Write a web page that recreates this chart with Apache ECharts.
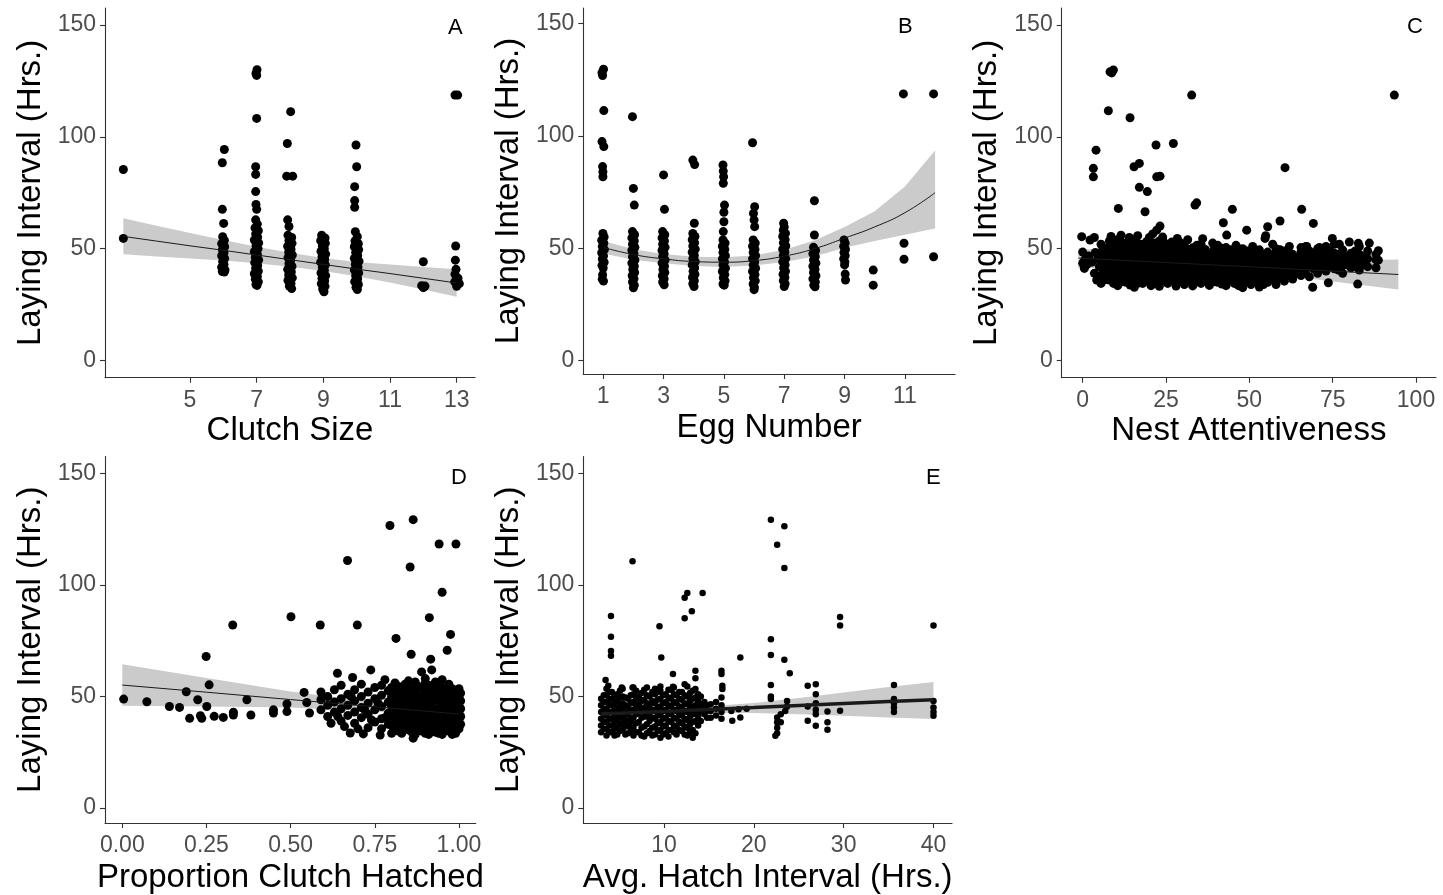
<!DOCTYPE html>
<html><head><meta charset="utf-8">
<script src="https://cdn.jsdelivr.net/npm/echarts@6/dist/echarts.min.js"></script>
<style>html,body{margin:0;padding:0;background:#fff;}#chart{width:1443px;height:895px;}</style>
</head><body><div id="chart"></div>
<script>
// ---------- tick labels / titles ----------
const yTicks = [0, 50, 100, 150];
const clutchTicks = [5, 7, 9, 11, 13];
const eggTicks = [1, 3, 5, 7, 9, 11];
const attentTicks = [0, 25, 50, 75, 100];
const propTicks = [0, 0.25, 0.5, 0.75, 1];
const hatchTicks = [10, 20, 30, 40];
const panelLetters = ['A', 'B', 'C', 'D', 'E'];
const xTitles = ['Clutch Size', 'Egg Number', 'Nest Attentiveness', 'Proportion Clutch Hatched', 'Avg. Hatch Interval (Hrs.)'];
const yTitle = 'Laying Interval (Hrs.)';

// ---------- Panel A: clutch size ----------
const clutchPts = [
[3.0,85.4],[3.0,54.6],
[6.03,94.3],[5.97,88.4],[5.97,67.6],[6.01,61.3],[5.98,55.4],[6.03,53.8],[5.95,52.3],[6.04,50.9],[5.97,49.6],[6.02,48.2],[5.95,46.9],[6.04,45.6],[5.98,44.3],[6.02,43.0],[5.95,41.7],[6.05,40.5],[5.97,39.8],[6.03,39.6],
[7.01,129.9],[6.98,128.3],[7.0,127.4],[7.0,108.2],[6.97,86.6],[6.97,83.2],[6.97,75.5],[6.98,69.8],[7.0,67.6],[6.97,62.9],[7.02,61.0],
[6.95,59.3],[7.05,58.0],[6.97,56.6],[7.03,55.2],[6.93,53.9],[7.06,52.6],[6.98,51.3],[7.04,50.0],[6.93,48.7],[7.02,47.5],[6.96,46.2],[7.06,45.0],[6.94,43.8],[7.03,42.5],[6.97,41.3],[7.05,40.0],[6.93,38.8],[7.02,37.6],[6.96,36.4],[7.05,35.2],[6.98,34.0],[7.01,33.6],[7.0,49.2],[7.0,44.5],[7.0,39.3],
[8.02,111.2],[7.92,97.0],[7.9,82.4],[8.08,82.4],[7.93,62.9],[7.97,59.9],
[7.94,56.0],[8.05,55.0],[7.97,53.7],[8.06,52.4],[7.93,51.1],[8.03,49.8],[7.96,48.5],[8.07,47.2],[7.94,46.0],[8.02,44.7],[7.97,43.4],[8.06,42.1],[7.93,40.8],[8.04,39.6],[7.96,38.3],[8.07,37.0],[7.94,35.8],[8.03,34.5],[7.98,33.3],[8.05,32.2],[8.0,45.5],[8.0,40.0],
[8.95,56.0],[9.05,54.8],[8.92,53.6],[9.06,52.4],[8.97,51.2],[9.03,50.0],[8.93,48.8],[9.07,47.6],[8.96,46.4],[9.04,45.2],[8.92,44.0],[9.06,42.8],[8.97,41.6],[9.03,40.4],[8.93,39.2],[9.07,38.0],[8.96,36.8],[9.04,35.6],[8.94,34.4],[9.05,33.2],[8.98,32.0],[9.02,30.8],[9.0,46.0],[9.0,40.0],[9.0,43.0],[9.0,37.0],
[9.98,96.3],[10.0,86.6],[9.94,77.7],[9.94,71.5],[9.94,68.5],[9.96,57.6],[10.02,55.4],
[9.95,53.5],[10.05,52.2],[9.93,50.9],[10.06,49.6],[9.97,48.3],[10.03,47.0],[9.93,45.7],[10.07,44.4],[9.96,43.1],[10.04,41.8],[9.93,40.5],[10.06,39.2],[9.97,37.9],[10.03,36.6],[9.94,35.3],[10.05,34.0],[9.98,32.8],[10.02,31.8],
[12.0,44.2],[11.95,33.5],[12.05,33.3],[12.0,32.6],
[12.95,118.6],[13.03,118.6],[12.97,51.2],[12.96,44.9],[12.98,40.8],[12.95,38.6],[13.04,36.8],[12.94,35.2],[13.08,34.4],[13.0,33.2]
];
const clutchFitX = [3,4,5,6,7,8,9,10,11,12,13];
const clutchFit = [55.5,53.4,51.3,49.3,47.2,45.1,43.0,40.9,38.9,36.8,34.7];
const clutchHi = [63.6,60.3,57.0,53.9,50.9,48.2,45.9,44.1,42.9,41.8,40.8];
const clutchLo = [47.5,46.5,45.6,44.7,43.5,42.0,40.1,37.7,34.9,31.8,28.6];

// ---------- Panel B: egg number ----------
const eggPts = [
[1.01,129.6],[0.96,128.0],[0.98,126.8],[1.02,111.2],[0.96,97.4],[1.02,95.2],[0.98,86.3],[0.99,84.0],[0.99,81.8],
[0.99,56.6],[1.03,55.0],[0.95,53.6],[1.02,52.2],[0.97,50.8],[1.04,49.4],[0.95,48.0],[1.01,46.6],[0.97,45.2],[1.03,43.8],[0.96,42.4],[1.0,41.2],[0.98,38.2],[0.97,36.2],[1.01,35.4],
[1.97,108.5],[2.0,76.6],[2.03,69.2],
[1.97,57.4],[2.04,56.0],[1.95,54.6],[2.03,53.2],[1.97,51.8],[2.05,50.4],[1.95,49.0],[2.02,47.6],[1.97,46.2],[2.05,44.8],[1.95,43.4],[2.03,42.0],[1.98,40.6],[2.04,39.2],[1.96,37.8],[2.02,36.4],[1.97,35.0],[2.03,33.6],[2.0,32.4],[2.0,45.5],
[3.0,82.6],[3.03,67.3],
[2.97,57.4],[3.04,56.0],[2.95,54.6],[3.03,53.2],[2.97,51.8],[3.05,50.4],[2.95,49.0],[3.02,47.6],[2.97,46.2],[3.05,44.8],[2.95,43.4],[3.03,42.0],[2.98,40.6],[3.04,39.2],[2.96,37.8],[3.02,36.4],[2.97,35.0],[3.02,33.8],
[3.97,89.2],[4.03,87.2],[4.02,61.1],
[3.97,56.6],[4.04,55.2],[3.95,53.8],[4.03,52.4],[3.97,51.0],[4.05,49.6],[3.95,48.2],[4.02,46.8],[3.97,45.4],[4.05,44.0],[3.95,42.6],[4.03,41.2],[3.98,39.8],[4.04,38.4],[3.96,37.0],[4.02,35.6],[3.97,34.2],[4.01,33.0],
[4.97,87.0],[4.98,84.3],[4.99,81.8],[4.98,78.9],[5.02,69.2],[5.0,66.0],[5.0,61.8],[4.98,57.4],
[4.97,53.7],[5.04,52.3],[4.95,50.9],[5.03,49.5],[4.97,48.1],[5.05,46.7],[4.95,45.3],[5.02,43.9],[4.97,42.5],[5.05,41.1],[4.95,39.7],[5.03,38.3],[4.98,36.9],[5.04,35.5],[4.97,34.1],[5.01,33.6],
[5.95,96.9],[6.02,68.5],[5.98,65.5],[6.0,62.6],[6.02,59.6],
[5.97,53.7],[6.04,52.3],[5.95,50.9],[6.03,49.5],[5.97,48.1],[6.05,46.7],[5.95,45.3],[6.02,43.9],[5.97,42.5],[6.05,41.1],[5.95,39.7],[6.03,38.3],[5.98,36.9],[6.04,35.5],[5.97,34.1],[6.01,32.7],[6.0,31.6],
[6.98,61.1],[7.0,59.5],[6.97,58.0],[7.04,56.6],[6.95,55.2],[7.03,53.8],[6.97,52.4],[7.05,51.0],[6.95,49.6],[7.02,48.2],[6.97,46.8],[7.05,45.4],[6.95,44.0],[7.03,42.6],[6.98,41.2],[7.04,39.8],[6.96,38.4],[7.02,37.0],[6.97,35.6],[7.03,34.2],[7.0,33.0],
[8.0,71.1],[8.0,55.9],
[7.97,50.4],[8.04,49.0],[7.95,47.6],[8.03,46.2],[7.97,44.8],[8.05,43.4],[7.95,42.0],[8.02,40.6],[7.97,39.2],[8.05,37.8],[7.95,36.4],[8.03,35.0],[7.98,33.6],[8.02,32.9],
[8.98,53.7],[9.02,52.3],[8.97,50.9],[9.03,49.5],[8.98,48.1],[9.02,46.7],[8.97,45.3],[9.01,43.9],[9.0,42.6],[9.02,38.5],[9.03,35.9],
[9.95,40.3],[9.95,33.6],
[10.95,118.6],[10.97,52.2],[10.97,45.1],
[11.95,118.6],[11.95,46.2]
];
const eggFitX = [1,2,3,4,5,6,7,8,9,10,11,12];
const eggFit = [50.4,47.2,45.3,44.1,43.8,44.5,46.5,49.8,54.5,59.5,65.8,74.7];
const eggHi = [53.2,49.6,47.4,46.2,46.0,46.8,49.3,53.5,59.5,66.5,77.5,93.4];
const eggLo = [47.7,44.9,43.3,42.1,41.7,42.3,43.9,46.3,50.2,53.2,56.0,58.8];

// ---------- Panel C: nest attentiveness ----------
const attentPts = [
[8.2,129],[9.2,129.8],[8.7,128.5],[7.7,111.6],[14.2,108.5],[32.7,118.6],[93.5,118.6],[4,94],[3.2,85.9],[3.2,82.1],[15.4,86.6],[17,88.1],[22,96.3],[27.2,97],[22.2,82.1],[23.2,82.4],[17,77.4],[19.4,75.5],[60.7,86.2],[10.7,68],[18.7,66.5],[33.7,69.5],[34.2,70.5],[44.9,67.6],[65.7,67.6],[42.2,61.6],[69.2,61.3],[59.2,62.4],[55.5,59.8],[49.2,58.3],[23.2,60.1],[22.2,58.3],[21,56.6],[20,55],[43.2,56.1],[54.7,54.6],[54.9,55.8],[74.9,54.6],[-0.3,55.4],[2.2,53.9],[28.4,54.6],[82.7,52.4],[88.7,49.1],[88.7,44.9],[69,32.8],[73.7,34.8],[82.5,34.2],[67.2,51],[71,50.5],
[0,48.5],[1.8,46.8],[0.6,45],[2.8,44],[1.2,42.8],[4.5,45.5],[3.8,48.3],[5,42],[0,43.5],[0.5,41.2],[3.5,39],[4.2,36],
[3.5,55],[8.5,55.5],[11.5,56],[14,55],[16.5,55.8],[24,55.2],[31.5,54],[36,54.5],[39,52.5],[46,51.5],[51,51],[57,52],[62,51],[67,51],[77,52],[80,53],[86,52.5],
[5.5,34.5],[5.5,38],[5.5,41.5],[5.5,45],[5.5,48.5],[5.5,52],
[8,36],[8,39.5],[8,43],[8,46.5],[8,50],[8,53.5],
[10.5,33.5],[10.5,37],[10.5,40.5],[10.5,44],[10.5,47.5],[10.5,51],[10.5,54],
[13,35],[13,38.5],[13,42],[13,45.5],[13,49],[13,52.5],
[15.5,32.8],[15.5,36.5],[15.5,40],[15.5,43.5],[15.5,47],[15.5,50.5],[15.5,53.5],
[18,34.5],[18,38],[18,41.5],[18,45],[18,48.5],[18,52],
[20.5,33.5],[20.5,37],[20.5,40.5],[20.5,44],[20.5,47.5],[20.5,51],
[23,33.2],[23,36.5],[23,40],[23,43.5],[23,47],[23,50.5],[23,53.5],
[25.5,34.5],[25.5,38],[25.5,41.5],[25.5,45],[25.5,48.5],[25.5,52],
[28,33.3],[28,37],[28,40.5],[28,44],[28,47.5],[28,51],
[30.5,34],[30.5,37.5],[30.5,41],[30.5,44.5],[30.5,48],[30.5,51.5],
[33,33.4],[33,36.8],[33,40.2],[33,43.6],[33,47],[33,50.4],
[35.5,34.5],[35.5,38],[35.5,41.5],[35.5,45],[35.5,48.5],[35.5,52],
[38,33.6],[38,37],[38,40.5],[38,44],[38,47.5],
[40.5,35],[40.5,38.5],[40.5,42],[40.5,45.5],[40.5,49],[40.5,51.5],
[43,33.5],[43,37],[43,40.5],[43,44],[43,47.5],[43,50.5],
[45.5,34.5],[45.5,38],[45.5,41.5],[45.5,45],[45.5,48.5],
[48,32.6],[48,36],[48,39.5],[48,43],[48,46.5],[48,50],
[50.5,34],[50.5,37.5],[50.5,41],[50.5,44.5],[50.5,48],
[53,32.9],[53,36.5],[53,40],[53,43.5],[53,47],[53,49.5],
[55.5,35],[55.5,38.5],[55.5,42],[55.5,45.5],[55.5,48.5],
[58,34],[58,37.5],[58,41],[58,44.5],[58,47.5],[58,50],
[60.5,35.5],[60.5,39],[60.5,42.5],[60.5,46],[60.5,49],
[63,36.5],[63,40],[63,43.5],[63,47.5],
[65.5,38],[65.5,41.5],[65.5,45],[65.5,48.5],[65.5,50.5],
[68,37.5],[68,42],[68,45.5],[68,49],
[70.5,39],[70.5,43],[70.5,46.5],[70.5,50],
[73,40],[73,43.5],[73,47],[73,51],
[75.5,41],[75.5,44.5],[75.5,48],[75.5,52],
[78,39],[78,42.5],[78,46],[78,49.5],
[80.5,41.5],[80.5,45],[80.5,48],
[83,40.5],[83,44],[83,47.5],[83,51],
[85.5,42],[85.5,45.5],[85.5,49],
[88,41.5],[88,45],[88,47.5],
[6.75,36.2],[6.75,39.7],[6.75,43.2],[6.75,46.7],[6.75,50.2],
[9.25,34.5],[9.25,38],[9.25,41.5],[9.25,45],[9.25,48.5],[9.25,52],
[11.75,35.2],[11.75,38.7],[11.75,42.2],[11.75,45.7],[11.75,49.2],[11.75,52.7],
[14.25,33.8],[14.25,37.2],[14.25,40.7],[14.25,44.2],[14.25,47.7],[14.25,51.2],[14.25,54.2],
[16.75,34.7],[16.75,38.2],[16.75,41.7],[16.75,45.2],[16.75,48.7],[16.75,52.2],
[19.25,35.7],[19.25,39.2],[19.25,42.7],[19.25,46.2],[19.25,49.7],[19.25,53.2],
[21.75,35.2],[21.75,38.7],[21.75,42.2],[21.75,45.7],[21.75,49.2],[21.75,52.5],
[24.25,35.7],[24.25,39.2],[24.25,42.7],[24.25,46.2],[24.25,49.7],[24.25,53],
[26.75,35.8],[26.75,39.2],[26.75,42.7],[26.75,46.2],[26.75,49.7],[26.75,53],
[29.25,35.7],[29.25,39.2],[29.25,42.7],[29.25,46.2],[29.25,49.7],[29.25,52.7],
[31.75,35.7],[31.75,39.2],[31.75,42.7],[31.75,46.2],[31.75,49.7],
[34.25,35.2],[34.25,38.7],[34.25,42.2],[34.25,45.7],[34.25,49.2],[34.25,51.5],
[36.75,35.8],[36.75,39.2],[36.75,42.7],[36.75,46.2],[36.75,49.7],
[39.25,35.2],[39.25,38.7],[39.25,42.2],[39.25,45.7],[39.25,49.2],
[41.75,34.2],[41.75,36.7],[41.75,40.2],[41.75,43.7],[41.75,47.2],[41.75,50.2],
[44.25,35.7],[44.25,39.2],[44.25,42.7],[44.25,46.2],[44.25,49.5],
[46.75,33.5],[46.75,36.2],[46.75,39.7],[46.75,43.2],[46.75,46.7],[46.75,50],
[49.25,35.2],[49.25,38.7],[49.25,42.2],[49.25,45.7],[49.25,49],
[51.75,35.2],[51.75,38.7],[51.75,42.2],[51.75,45.7],[51.75,48.7],
[54.25,34],[54.25,36.7],[54.25,40.2],[54.25,43.7],[54.25,47.2],
[56.75,36.7],[56.75,40.2],[56.75,43.7],[56.75,47],
[59.25,36.7],[59.25,40.2],[59.25,43.7],[59.25,46.7],[59.25,49.5],
[61.75,38],[61.75,41.5],[61.75,45],[61.75,48],
[64.25,39],[64.25,42.5],[64.25,46],
[66.75,40],[66.75,43.5],[66.75,47],
[69.25,41],[69.25,44.5],[69.25,48],
[71.75,41.5],[71.75,45],[71.75,48.5],
[74.25,42],[74.25,45.5],[74.25,49],
[76.75,40.5],[76.75,44],[76.75,47.5],
[79.25,43],[79.25,46.5],
[81.75,42],[81.75,45.5],[81.75,49],
[84.25,43],[84.25,46.5]
];
const attentFitX = [-1.3, 20, 40, 60, 80, 94.7];
const attentFit = [45.8, 44.2, 42.7, 41.2, 39.6, 38.5];
const attentHi = [50.3, 46.6, 44.3, 44.2, 44.7, 45.2];
const attentLo = [41.3, 41.8, 41.1, 38.2, 34.5, 31.8];

// ---------- Panel D: proportion clutch hatched ----------
const propPts = [
[0.004,48.8],[0.073,47.6],[0.14,45.5],[0.17,45.1],[0.19,52.1],[0.2,40.2],[0.224,48.5],[0.232,41.4],[0.236,40.2],[0.249,67.9],[0.251,45.5],[0.258,55.2],[0.273,41.1],[0.3,40.6],[0.328,82],[0.33,41.7],[0.33,42.9],[0.37,48.5],[0.382,41.7],[0.449,44],[0.449,42.6],[0.489,46.6],[0.489,43.2],[0.501,85.7],[0.54,51.8],[0.548,47.3],[0.556,42.6],[0.588,82],[0.698,82],[0.669,110.9],[0.795,126.6],[0.864,129.2],[0.941,118.3],[0.991,118.3],[0.855,108],[0.95,96.7],[0.912,85.3],[0.813,76],[0.975,77.8],[0.858,68.9],[0.965,70.7],[0.916,66.7],[0.639,60.4],[0.738,61.9],[0.889,61],[0.919,61.9],[0.684,58.5],[0.677,33.6],[0.716,33.2],[0.766,32.7],[0.864,31.3],
[0.59,44],[0.59,48.5],[0.59,52],
[0.61,41],[0.61,46],[0.61,50],
[0.63,43],[0.63,47.5],[0.63,53],
[0.65,39],[0.65,44.5],[0.65,49],[0.65,55],
[0.67,41.5],[0.67,46],[0.67,51],
[0.69,38],[0.69,43],[0.69,48],[0.69,53],
[0.71,40.5],[0.71,45],[0.71,50],[0.71,55.5],
[0.73,36],[0.73,42],[0.73,47],[0.73,52],
[0.75,38.5],[0.75,44],[0.75,49],[0.75,54],
[0.77,35.5],[0.77,40],[0.77,45.5],[0.77,50.5],[0.77,55],
[0.79,37.5],[0.79,42.5],[0.79,47.5],[0.79,52.5],
[0.81,35],[0.81,39],[0.81,43.5],[0.81,48],[0.81,52],[0.81,56],
[0.83,33.5],[0.83,37],[0.83,41],[0.83,45],[0.83,49],[0.83,53.5],
[0.85,35],[0.85,38.5],[0.85,42.5],[0.85,46.5],[0.85,50.5],[0.85,54.5],
[0.87,33],[0.87,36.5],[0.87,40],[0.87,44],[0.87,48],[0.87,52],[0.87,56.5],
[0.89,34.5],[0.89,38],[0.89,41.5],[0.89,45.5],[0.89,49.5],[0.89,53.5],
[0.91,33],[0.91,36.5],[0.91,40],[0.91,43.5],[0.91,47],[0.91,51],[0.91,55],
[0.93,34],[0.93,37.5],[0.93,41],[0.93,44.5],[0.93,48.5],[0.93,52.5],[0.93,56.5],
[0.95,33],[0.95,36.5],[0.95,40],[0.95,43.5],[0.95,47],[0.95,50.5],[0.95,54],
[0.97,34.5],[0.97,38],[0.97,41.5],[0.97,45],[0.97,48.5],[0.97,52],[0.97,55.5],
[0.99,33.5],[0.99,37],[0.99,40.5],[0.99,44],[0.99,47.5],[0.99,51],
[1.0,35.5],[1.0,39],[1.0,42.5],[1.0,46],[1.0,49.5],[1.0,53.5],
[0.9,58],[0.95,57.5],[0.85,57],[0.78,57.5],
[0.80,37],[0.80,41],[0.80,45.5],[0.80,50],[0.80,54],
[0.82,34.5],[0.82,38],[0.82,42],[0.82,46],[0.82,50],[0.82,54.5],
[0.84,36],[0.84,39.5],[0.84,43.5],[0.84,47.5],[0.84,51.5],[0.84,55.5],
[0.86,34],[0.86,37.5],[0.86,41],[0.86,45],[0.86,49],[0.86,53],
[0.88,35],[0.88,38.5],[0.88,42],[0.88,46],[0.88,50],[0.88,54.5],
[0.90,33.5],[0.90,37],[0.90,40.5],[0.90,44.5],[0.90,48.5],[0.90,52.5],[0.90,56],
[0.92,35],[0.92,38.5],[0.92,42],[0.92,45.5],[0.92,49.5],[0.92,53.5],
[0.94,33.5],[0.94,37],[0.94,40.5],[0.94,44],[0.94,48],[0.94,51.5],[0.94,55.5],
[0.96,35],[0.96,38.5],[0.96,42],[0.96,45.5],[0.96,49],[0.96,52.5],
[0.98,33],[0.98,36],[0.98,39.5],[0.98,43],[0.98,46.5],[0.98,50],[0.98,53.5],
[1.005,37.5],[1.005,41],[1.005,44.5],[1.005,48],[1.005,51.5],
[0.66,36.5],[0.7,35.5],[0.74,39.5],[0.76,47],[0.72,44],[0.68,50],[0.64,41],[0.62,38],[0.78,40.5],[0.8,33.5]
];
const propFitX = [0, 0.25, 0.5, 0.75, 1.0];
const propFit = [55.1, 51.9, 48.6, 45.4, 42.1];
const propHi = [64.4, 58.3, 52.2, 47.4, 45.8];
const propLo = [45.8, 45.5, 45.0, 43.4, 38.4];

// ---------- Panel E: avg. hatch interval ----------
const hatchPts = [
[3.0,34],[3.0,37],[3.0,40],[3.0,43],[3.0,46],[3.0,49],
[3.6,32.5],[3.6,35.5],[3.6,38.5],[3.6,41.5],[3.6,44.5],[3.6,47.5],[3.6,50.5],[3.6,53.5],
[4.2,34],[4.2,37],[4.2,40],[4.2,43],[4.2,46],[4.2,49],[4.2,52],
[4.8,33],[4.8,36],[4.8,39],[4.8,42],[4.8,45],[4.8,48],[4.8,51],
[5.4,35],[5.4,38],[5.4,41],[5.4,44],[5.4,47],[5.4,50],[5.4,53.5],
[6.0,33.5],[6.0,37],[6.0,42],[6.0,45.5],[6.0,49],
[6.6,32.5],[6.6,36],[6.6,40.5],[6.6,44],[6.6,47.5],[6.6,51],[6.6,54],
[7.2,34],[7.2,38.5],[7.2,43],[7.2,46.5],[7.2,50],
[7.8,32],[7.8,36.5],[7.8,41],[7.8,45],[7.8,48.5],[7.8,53],
[8.4,34.5],[8.4,39],[8.4,42.5],[8.4,46],[8.4,50],
[9.0,33],[9.0,36.5],[9.0,40],[9.0,43.5],[9.0,47],[9.0,51],[9.0,53.5],
[9.6,31.5],[9.6,35],[9.6,38.5],[9.6,42],[9.6,45.5],[9.6,49],[9.6,52.5],
[10.2,33.5],[10.2,37],[10.2,40.5],[10.2,44],[10.2,47.5],[10.2,51],
[10.8,35],[10.8,38.5],[10.8,42],[10.8,45.5],[10.8,49],[10.8,53],
[11.4,33],[11.4,36.5],[11.4,40],[11.4,43.5],[11.4,47],[11.4,50.5],
[12.0,34.5],[12.0,38],[12.0,41.5],[12.0,45],[12.0,48.5],[12.0,52],
[12.6,32.5],[12.6,36],[12.6,39.5],[12.6,43],[12.6,46.5],[12.6,50],[12.6,54.5],
[13.2,31.5],[13.2,35],[13.2,38.5],[13.2,42],[13.2,45.5],[13.2,49],[13.2,52.5],
[13.8,37],[13.8,41],[13.8,44.5],[13.8,48],[13.8,51],
[14.5,42],[14.5,45],[14.5,47.5],
[15.2,40.5],[15.2,43.5],[15.2,46.5],
[16.4,40],[16.4,43],[16.4,46],[16.4,49.5],[16.5,53.3],[16.5,54.8],[16.4,60],[16.4,61.5],
[17.6,39.1],[17.5,43.5],[18.5,40.6],[18.3,44.3],[19.2,44.5],
[3.3,35.5],[3.3,38.5],[3.3,41.5],[3.3,44.5],[3.3,47.5],[3.3,50.5],
[3.9,34],[3.9,37],[3.9,40],[3.9,43],[3.9,46],[3.9,49],[3.9,52],
[4.5,32.5],[4.5,35.5],[4.5,38.5],[4.5,41.5],[4.5,44.5],[4.5,47.5],[4.5,50.5],
[5.1,34.5],[5.1,37.5],[5.1,40.5],[5.1,43.5],[5.1,46.5],[5.1,49.5],[5.1,52.5],
[5.7,33],[5.7,36.5],[5.7,39.5],[5.7,43],[5.7,46],[5.7,49.5],
[6.3,35],[6.3,38.5],[6.3,40],[6.3,43.5],[6.3,47],[6.3,50.5],
[6.9,34],[6.9,38],[6.9,42],[6.9,45.5],[6.9,49],[6.9,52.5],
[7.5,32.5],[7.5,36],[7.5,40.5],[7.5,44.5],[7.5,48],[7.5,51.5],
[8.1,33.5],[8.1,37.5],[8.1,41],[8.1,44],[8.1,47],[8.1,50.5],
[8.7,32.5],[8.7,36],[8.7,40.5],[8.7,44],[8.7,48],[8.7,52],
[9.3,34.5],[9.3,38],[9.3,41.5],[9.3,45],[9.3,48.5],[9.3,52],
[9.9,33],[9.9,36.5],[9.9,40],[9.9,43.5],[9.9,47],[9.9,50.5],
[10.5,32],[10.5,35],[10.5,39],[10.5,42.5],[10.5,46],[10.5,49.5],[10.5,53],
[11.1,34],[11.1,37],[11.1,40.5],[11.1,44],[11.1,47.5],[11.1,51],[11.1,54],
[11.7,35],[11.7,38.5],[11.7,42],[11.7,45.5],[11.7,49],[11.7,52],
[12.3,33],[12.3,36.5],[12.3,40],[12.3,43.5],[12.3,47],[12.3,50.5],
[12.9,34],[12.9,37.5],[12.9,41],[12.9,44.5],[12.9,48],[12.9,51.5],
[13.5,33.5],[13.5,39],[13.5,42.5],[13.5,46],[13.5,49.5],
[14.1,39],[14.1,43],[14.1,46.5],[14.1,50],
[14.8,40.5],[14.8,43.5],[14.8,46],
[15.8,41.5],[15.8,44.5],[15.8,47.5],
[3.5,57.4],[3.8,54.8],[5.3,54],[6.5,54],[8.1,54],[9.6,54.5],[11,54.3],[12.3,55.5],
[21.9,129.2],[23.4,126.2],[22.6,118],[23.4,107.6],[6.5,110.6],[12.6,96.4],[12.3,94.2],[14.3,96.4],[13.1,88.2],[12.3,85],
[4.1,86],[4.1,76.8],[4.1,70.4],[4.1,68.2],[9.5,81.5],[9.7,67.4],[18.5,67.4],
[29.6,85.6],[29.6,81.8],[40,81.8],
[21.9,75.6],[21.9,68.6],[23.4,66.4],[24.0,60.4],
[13.5,61.5],[13.5,58.2],[13.5,53.3],[11,60],
[21.9,55.1],[21.9,50],[21.9,48.8],
[22.6,40.6],[22.6,38.4],[22.6,36],[22.6,33.5],[22.4,32.4],[23.0,38.4],[23.0,42],
[23.7,48],[23.7,45.5],[23.5,43.5],
[26,54.8],[26.9,55.5],[26.9,51],[26.0,39.1],[26.9,36.9],[26.9,47],[26.9,44],[26.9,42],[26,45.5],
[28.2,43.2],[28.2,38.4],[28.2,35.1],[29.6,43.6],
[35.6,55.1],[35.6,48.8],[35.6,47],[35.6,45],[35.6,43],
[40,48],[40,45],[40,43],[40,41.4]
];
const hatchFitX = [3, 10, 15, 20, 25, 30, 35, 40];
const hatchFit = [42.1, 43.3, 44.2, 45.0, 45.9, 46.8, 47.7, 48.5];
const hatchHi = [43.6, 44.8, 45.6, 47.1, 49.3, 51.8, 54.2, 56.5];
const hatchLo = [40.6, 42.0, 42.6, 42.6, 42.0, 41.3, 40.6, 39.9];

// ---------- layout ----------
const FONT = "'Liberation Sans', Arial, sans-serif";
const panels = [
  {grid:{left:105, top:8, width:370, height:369.7}, xr:[2.45,13.55], yr:[-7.6,157.5], ticks:clutchTicks, fmt:v=>String(v), gap:37,
   pts:clutchPts, fx:clutchFitX, f:clutchFit, hi:clutchHi, lo:clutchLo, size:9, lw:1, smooth:false,
   letter:{left:448, top:17}},
  {grid:{left:583.3, top:8, width:371.7, height:366}, xr:[0.34,12.66], yr:[-5.9,156.8], ticks:eggTicks, fmt:v=>String(v), gap:37,
   pts:eggPts, fx:eggFitX, f:eggFit, hi:eggHi, lo:eggLo, size:9, lw:1, smooth:true,
   letter:{left:898, top:16}},
  {grid:{left:1061.7, top:8, width:374.3, height:369.7}, xr:[-6.3,106], yr:[-7.6,157.5], ticks:attentTicks, fmt:v=>String(v), gap:37,
   pts:attentPts, fx:attentFitX, f:attentFit, hi:attentHi, lo:attentLo, size:9, lw:1, smooth:false,
   letter:{left:1407, top:16}},
  {grid:{left:105, top:456.5, width:370.8, height:367.5}, xr:[-0.0514,1.05], yr:[-6.7,157.5], ticks:propTicks, fmt:v=>v.toFixed(2), gap:38,
   pts:propPts, fx:propFitX, f:propFit, hi:propHi, lo:propLo, size:9, lw:1, smooth:false,
   letter:{left:451, top:467}},
  {grid:{left:583.3, top:456.5, width:368.7, height:367.5}, xr:[1.02,42.06], yr:[-6.7,157.5], ticks:hatchTicks, fmt:v=>String(v), gap:38,
   pts:hatchPts, fx:hatchFitX, f:hatchFit, hi:hatchHi, lo:hatchLo, size:6.5, lw:3.5, smooth:false,
   letter:{left:926, top:467}}
];

const option = {animation:false, backgroundColor:'#fff', grid:[], xAxis:[], yAxis:[], series:[], title:[]};
panels.forEach((p, i) => {
  option.grid.push(p.grid);
  option.xAxis.push({
    type:'value', gridIndex:i, min:p.xr[0], max:p.xr[1],
    name:xTitles[i], nameLocation:'middle', nameGap:p.gap,
    nameTextStyle:{fontSize:33, color:'#000', fontFamily:FONT},
    splitLine:{show:false},
    axisLine:{show:true, onZero:false, lineStyle:{color:'#333', width:1.1}},
    axisTick:{show:true, length:5, customValues:p.ticks, lineStyle:{color:'#333', width:1.1}},
    axisLabel:{customValues:p.ticks, fontSize:23, color:'#4d4d4d', margin:11, fontFamily:FONT, formatter:p.fmt}
  });
  option.yAxis.push({
    type:'value', gridIndex:i, min:p.yr[0], max:p.yr[1],
    name:yTitle, nameLocation:'middle', nameGap:58, nameRotate:90,
    nameTextStyle:{fontSize:33, color:'#000', fontFamily:FONT},
    splitLine:{show:false},
    axisLine:{show:true, onZero:false, lineStyle:{color:'#333', width:1.1}},
    axisTick:{show:true, length:5, customValues:yTicks, lineStyle:{color:'#333', width:1.1}},
    axisLabel:{customValues:yTicks, fontSize:23, color:'#4d4d4d', margin:9, padding:[6,0,0,0], fontFamily:FONT}
  });
  const fx = p.fx, hi = p.hi, lo = p.lo;
  option.series.push({
    type:'custom', xAxisIndex:i, yAxisIndex:i, z:1, silent:true,
    data: fx.map((x, k) => [x, lo[k], hi[k]]),
    encode:{x:0, y:[1,2]},
    renderItem: function(params, api) {
      if (params.dataIndex !== 0) return null;
      const pts = [];
      for (let k = 0; k < fx.length; k++) pts.push(api.coord([fx[k], hi[k]]));
      for (let k = fx.length - 1; k >= 0; k--) pts.push(api.coord([fx[k], lo[k]]));
      return {type:'polygon', shape:{points:pts}, style:{fill:'#cbcbcb'}};
    }
  });
  option.series.push({
    type:'scatter', xAxisIndex:i, yAxisIndex:i, z:2, silent:true,
    data:p.pts, symbolSize:p.size, itemStyle:{color:'#000', opacity:1}
  });
  option.series.push({
    type:'line', xAxisIndex:i, yAxisIndex:i, z:3, silent:true,
    data:fx.map((x, k) => [x, p.f[k]]), symbol:'none', smooth:p.smooth,
    lineStyle:{color:'#1a1a1a', width:p.lw}
  });
  option.title.push({
    text:panelLetters[i], left:p.letter.left, top:p.letter.top, padding:0,
    textStyle:{fontSize:22, fontWeight:'normal', color:'#000', fontFamily:FONT}
  });
});

const chart = echarts.init(document.getElementById('chart'), null, {renderer:'canvas'});
chart.setOption(option);
</script>
</body></html>
